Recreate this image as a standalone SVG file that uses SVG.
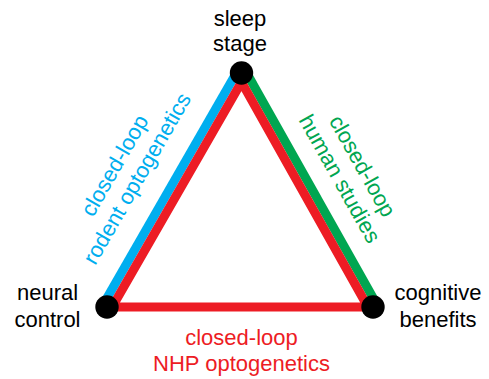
<svg xmlns="http://www.w3.org/2000/svg" width="489" height="379" viewBox="0 0 489 379">
<style>
text{font-family:"Liberation Sans",Arial,sans-serif;font-size:22px;text-anchor:middle}
.k{fill:#000}
.b{fill:#00AEEF}
.g{fill:#00A651}
.r{fill:#ED1C24}
.node{fill:#000}
</style>
<rect width="489" height="379" fill="#fff"/>
<g id="connectors">
<line x1="237.6" y1="70.8" x2="103.1" y2="304.8" stroke="#00AEEF" stroke-width="9"/>
<line x1="245.4" y1="70.8" x2="376.9" y2="304.8" stroke="#00A651" stroke-width="9"/>
<polygon points="241.5,82.1 112.2,307 367.9,307" fill="none" stroke="#ED1C24" stroke-width="9" stroke-linejoin="miter"/>
</g>
<g id="sleep-stage">
<circle class="node" cx="241.5" cy="73" r="11.7"/>
<text class="k" x="240" y="25.5">sleep</text>
<text class="k" x="240" y="51">stage</text>
</g>
<g id="neural-control">
<circle class="node" cx="107" cy="307" r="11.7"/>
<text class="k" x="47.5" y="300">neural</text>
<text class="k" x="47.5" y="327">control</text>
</g>
<g id="cognitive-benefits">
<circle class="node" cx="373" cy="307" r="11.7"/>
<text class="k" x="438" y="300">cognitive</text>
<text class="k" x="438" y="327">benefits</text>
</g>
<g id="label-rodent" transform="translate(121,169.2) rotate(-60.1)">
<text class="b" x="0" y="0">closed-loop</text>
<text class="b" x="0" y="26">rodent optogenetics</text>
</g>
<g id="label-human" transform="translate(356,169.7) rotate(60.7)">
<text class="g" x="0" y="0">closed-loop</text>
<text class="g" x="0" y="26">human studies</text>
</g>
<g id="label-nhp">
<text class="r" x="241.5" y="345">closed-loop</text>
<text class="r" x="241.5" y="371">NHP optogenetics</text>
</g>
</svg>
